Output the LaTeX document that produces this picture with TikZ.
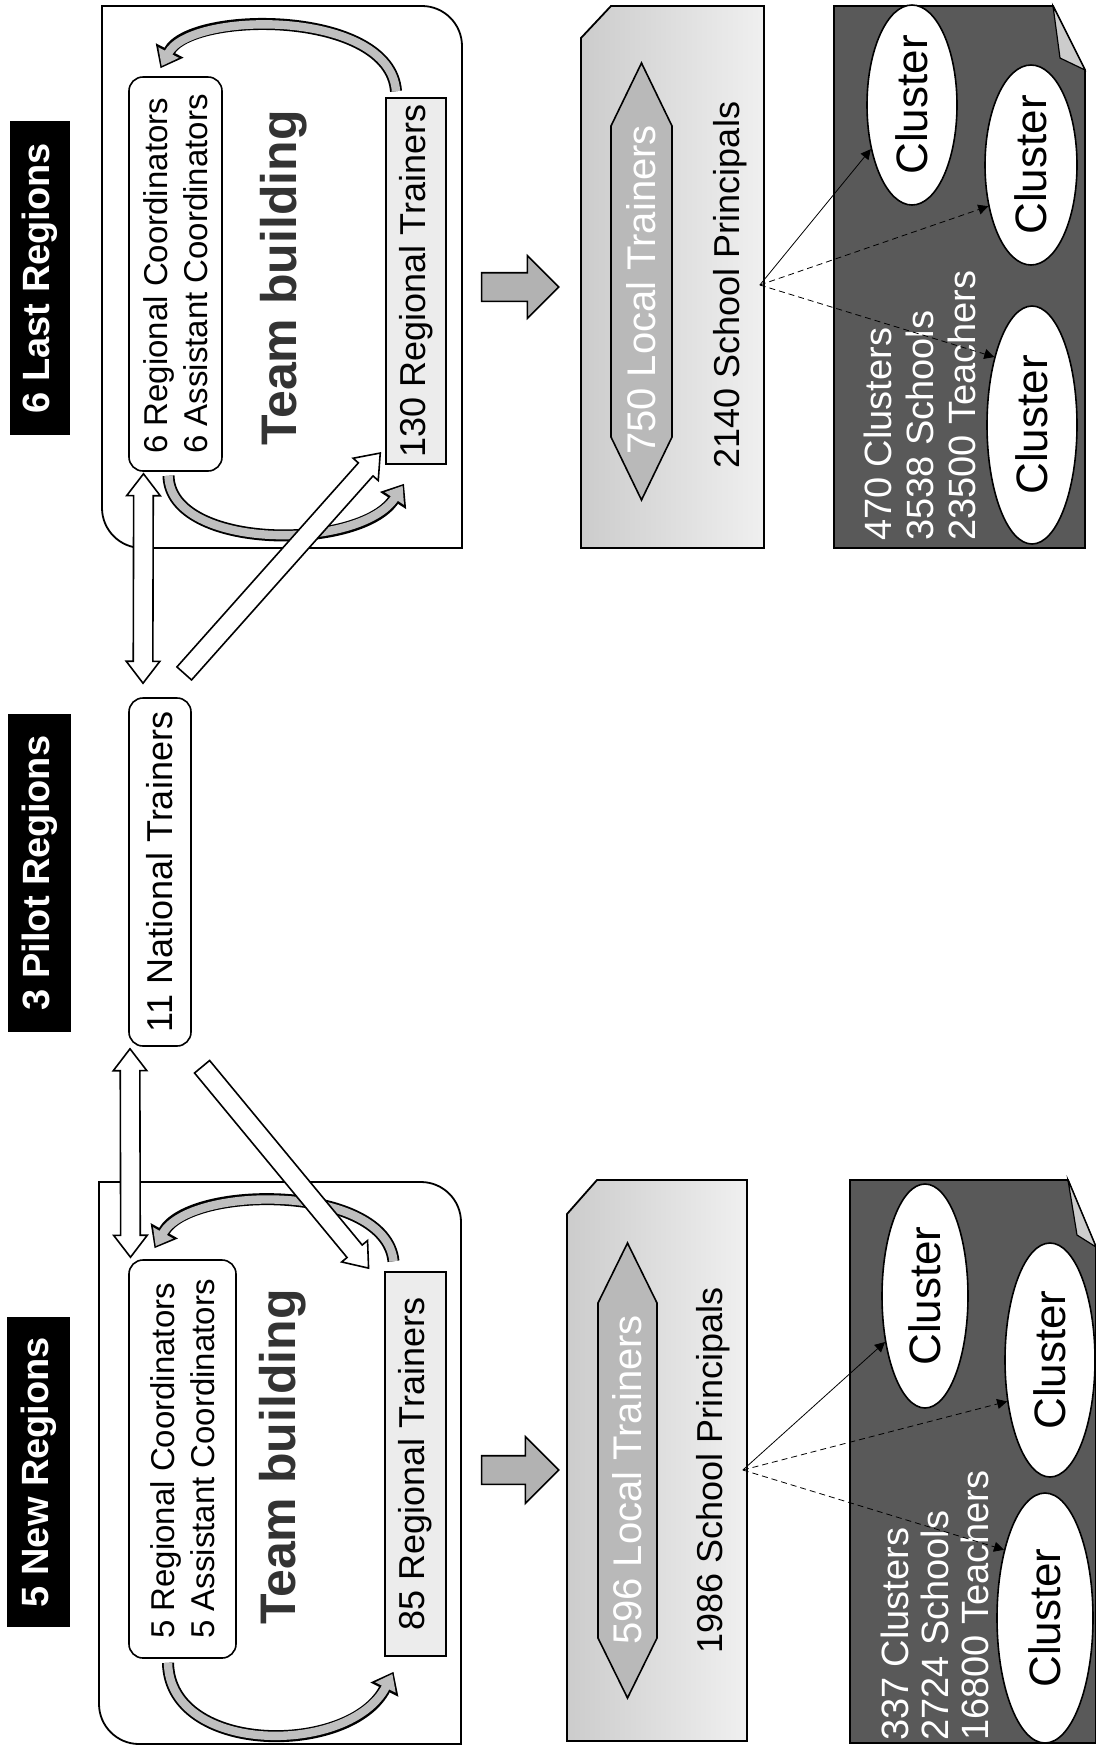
\documentclass[tikz,border=0pt]{standalone}
\usepackage{fontspec}
\setmainfont{Liberation Sans}
\usetikzlibrary{calc,shapes.geometric,shapes.arrows,arrows.meta}

\tikzset{
  region/.style={rotate=90, fill=black, text=white, inner sep=0pt, font=\bfseries\fontsize{19}{22}\selectfont},
  staffbox/.style={rotate=90, draw, fill=white, rounded corners=7pt, line width=0.8pt, align=left, inner sep=0pt, font=\fontsize{16.5}{20}\selectfont},
  trainerbox/.style={rotate=90, draw, fill=gray!15, line width=0.8pt, inner sep=0pt, font=\fontsize{18}{20}\selectfont},
  teamtext/.style={rotate=90, text=black!80, font=\bfseries\fontsize{25}{27}\selectfont},
  plaintext/.style={rotate=90, font=\fontsize{18}{20}\selectfont},
  cluster/.style={ellipse, rotate=90, draw, fill=white, line width=0.8pt, inner sep=0pt, font=\fontsize{22}{24}\selectfont},
  hollow/.style={draw, fill=white, line width=0.8pt, inner xsep=0pt, inner ysep=4.5pt,
    single arrow head extend=3.5pt, single arrow tip angle=75,
    double arrow head extend=3.5pt, double arrow tip angle=75},
  bigarrow/.style={single arrow, draw, fill=gray!60, line width=0.8pt, inner xsep=0pt, inner ysep=6.75pt,
    minimum height=38.5pt, single arrow head extend=8.5pt},
  loopout/.style={line width=6pt, -{Triangle[length=10pt,width=15pt]}},
  loopin/.style={line width=4.2pt, draw=gray!50, shorten >=1.2pt, -{Triangle[length=7.6pt,width=11pt]}},
  fan/.style={thin, -{Triangle[length=5pt,width=5pt]}}
}

% hollow arrow laid between two named points
\newcommand{\hollowlink}[3][single arrow]{%
  \path let \p1=($(#3)-(#2)$), \n1={atan2(\y1,\x1)}, \n2={veclen(\x1,\y1)} in
    node[hollow, #1, minimum height=\n2, rotate=\n1] at ($(#2)!0.5!(#3)$) {};}

\begin{document}
\begin{tikzpicture}[x=0.5pt, y=-0.5pt]
\useasboundingbox (0,0) rectangle (1096,1746);

% region headers
\node[region, minimum width=157pt, minimum height=30pt] (lastlbl) at (40,278) {6 Last Regions};
\node[region, minimum width=159pt, minimum height=31.5pt] (pilotlbl) at (39.5,873) {3 Pilot Regions};
\node[region, minimum width=155pt, minimum height=31.5pt] (newlbl) at (38.5,1472) {5 New Regions};

% team frames
\draw[line width=0.9pt] (102,6) -- (422,6) .. controls (444,6) and (462,24) .. (462,46) -- (462,548)
  -- (142,548) .. controls (120,548) and (102,530) .. (102,508) -- cycle;
\draw[line width=0.9pt] (99,1182) -- (421,1182) .. controls (443,1182) and (461,1200) .. (461,1222) -- (461,1744)
  -- (139,1744) .. controls (117,1744) and (99,1726) .. (99,1704) -- cycle;

\node[staffbox, minimum width=197pt, minimum height=46.5pt] (coordA) at (175.5,274) {6 Regional Coordinators\\6 Assistant Coordinators};
\node[teamtext] (teamA) at (284,278) {Team building};
\node[trainerbox, minimum width=183pt, minimum height=30pt] (trainA) at (416,281) {130 Regional Trainers};

\node[staffbox, font=\fontsize{18}{20}\selectfont, minimum width=174pt, minimum height=31pt] (natl) at (160,872) {11 National Trainers};

\node[staffbox, minimum width=199pt, minimum height=53.5pt] (coordB) at (182.5,1459) {5 Regional Coordinators\\5 Assistant Coordinators};
\node[teamtext] (teamB) at (283,1457) {Team building};
\node[trainerbox, minimum width=192pt, minimum height=30.5pt] (trainB) at (415.5,1464) {85 Regional Trainers};

% team building loops
\coordinate (lA1) at ($(trainA.east)+(-20,-6)$);
\coordinate (lA2) at ($(coordA.east)+(-15,-8)$);
\coordinate (lA3) at ($(coordA.west)+(-7,4)$);
\coordinate (lA4) at ($(trainA.west)+(-12,19)$);
\coordinate (lB1) at ($(trainB.east)+(-22,-10)$);
\coordinate (lB2) at ($(coordB.east)+(-28,-11)$);
\coordinate (lB3) at ($(coordB.west)+(-14.5,4)$);
\coordinate (lB4) at ($(trainB.west)+(-22,15)$);
\draw[loopout] (lA1) .. controls +(-6,-82) and +(30,-58) .. (lA2);
\draw[loopin] (lA1) .. controls +(-6,-82) and +(30,-58) .. (lA2);
\draw[loopout] (lA3) .. controls +(2,75) and +(-44,67) .. (lA4);
\draw[loopin] (lA3) .. controls +(2,75) and +(-44,67) .. (lA4);
\draw[loopout] (lB1) .. controls +(-8,-77) and +(36,-64) .. (lB2);
\draw[loopin] (lB1) .. controls +(-8,-77) and +(36,-64) .. (lB2);
\draw[loopout] (lB3) .. controls +(2,93) and +(-43,84) .. (lB4);
\draw[loopin] (lB3) .. controls +(2,93) and +(-43,84) .. (lB4);

% national trainers links
\coordinate (vA1) at ($(coordA.west)+(-32,2)$);
\coordinate (vA2) at ($(natl.east)+(-17,-14)$);
\coordinate (dA1) at ($(natl.east)+(20,-19)$);
\coordinate (dA2) at ($(trainA.west)+(-40,-7)$);
\coordinate (vB1) at ($(natl.west)+(-30,2)$);
\coordinate (vB2) at ($(coordB.east)+(-52,-2)$);
\coordinate (dB1) at ($(natl.west)+(38,15)$);
\coordinate (dB2) at ($(trainB.east)+(-51,-8)$);
\hollowlink[double arrow]{vA1}{vA2}
\hollowlink{dA1}{dA2}
\hollowlink[double arrow]{vB1}{vB2}
\hollowlink{dB1}{dB2}

\node[bigarrow] (flowA) at (513,287) {};
\node[bigarrow, single arrow head extend=9.5pt] (flowB) at (513,1470) {};

% local trainers panels
\draw[line width=0.9pt, left color=gray!40, right color=gray!12] (611,6) -- (764,6) -- (764,548) -- (581,548) -- (581,38) -- cycle;
\draw[line width=0.8pt, fill=gray!55] (641.5,63) -- (672,126) -- (672,437) -- (641.5,500) -- (611,437) -- (611,126) -- cycle;
\node[plaintext, text=white, font=\fontsize{20}{22}\selectfont] (hexA) at (641.5,290) {750 Local Trainers};
\node[plaintext] (princA) at (730,285) {2140 School Principals};

\draw[line width=0.9pt, left color=gray!40, right color=gray!12] (597,1180) -- (747,1180) -- (747,1741) -- (567,1741) -- (567,1214) -- cycle;
\draw[line width=0.8pt, fill=gray!55] (627.5,1243) -- (657,1303) -- (657,1638) -- (627.5,1698) -- (598,1638) -- (598,1303) -- cycle;
\node[plaintext, text=white, font=\fontsize{20}{22}\selectfont] (hexB) at (627.5,1480) {596 Local Trainers};
\node[plaintext] (princB) at (713,1470) {1986 School Principals};

% cluster panels
\draw[line width=0.9pt, fill=black!65] (834,6) -- (1053,6) -- (1085,70) -- (1085,548) -- (834,548) -- cycle;
\draw[line width=0.6pt, fill=gray!40] (1053,6) -- (1060,58) -- (1085,70) -- cycle;
\draw[line width=0.9pt, fill=black!65] (850,1180) -- (1068,1180) -- (1096,1247) -- (1096,1743) -- (850,1743) -- cycle;
\draw[line width=0.6pt, fill=gray!40] (1068,1180) -- (1077,1235) -- (1096,1247) -- cycle;

\node[plaintext, text=white, align=left, anchor=west, font=\fontsize{19}{21}\selectfont] (countA) at (920,548) {470 Clusters\\3538 Schools\\23500 Teachers};
\node[plaintext, text=white, align=left, anchor=west, font=\fontsize{19}{20}\selectfont] (countB) at (935,1748) {337 Clusters\\2724 Schools\\16800 Teachers};

\node[cluster, minimum width=100pt, minimum height=45pt] (cA1) at (912,105) {Cluster};
\node[cluster, minimum width=100pt, minimum height=46pt] (cA2) at (1031,165) {Cluster};
\node[cluster, minimum width=119pt, minimum height=45pt] (cA3) at (1032,425) {Cluster};
\node[cluster, minimum width=112pt, minimum height=43pt] (cB1) at (925,1296) {Cluster};
\node[cluster, minimum width=117pt, minimum height=45pt] (cB2) at (1050,1360) {Cluster};
\node[cluster, minimum width=125pt, minimum height=48pt] (cB3) at (1045,1618) {Cluster};

\coordinate (fanA) at ($(princA.south)+(6,0)$);
\coordinate (fanB) at ($(princB.south)+(6,0)$);
\draw[fan] (fanA) -- (cA1.137);
\draw[fan, densely dashed] (fanA) -- (cA2.134);
\draw[fan, densely dashed] (fanA) -- (cA3.29);
\draw[fan] (fanB) -- (cB1.139);
\draw[fan, densely dashed] (fanB) -- (cB2.134);
\draw[fan, densely dashed] (fanB) -- (cB3.31);
\end{tikzpicture}
\end{document}
